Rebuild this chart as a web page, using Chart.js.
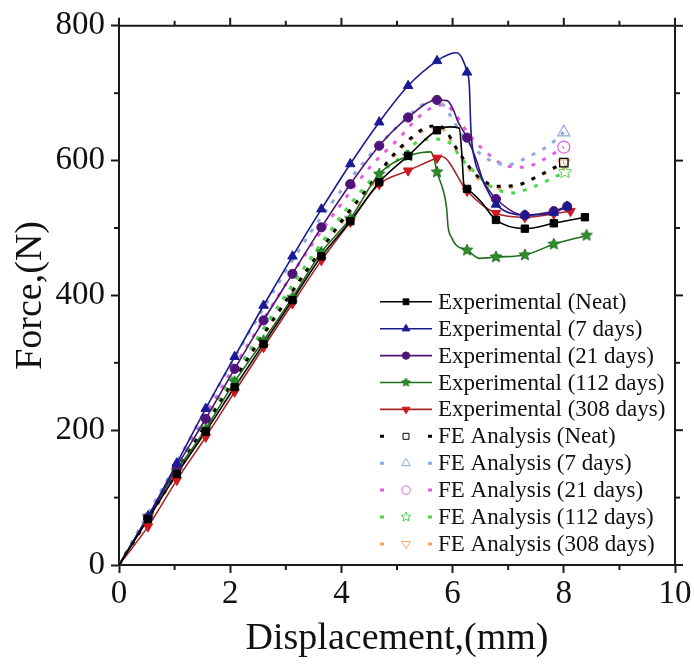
<!DOCTYPE html>
<html>
<head>
<meta charset="utf-8">
<script src="https://cdn.jsdelivr.net/npm/chart.js@4.4.1/dist/chart.umd.min.js"></script>
<style>
  html, body { margin: 0; padding: 0; background: #fff; }
  #wrap { width: 694px; height: 666px; }
</style>
</head>
<body>
<div id="wrap"><canvas id="grafico-forca" width="694" height="666"></canvas></div>
<script>
// eixos
const xTicks = [0, 2, 4, 6, 8, 10];
const yTicks = [0, 200, 400, 600, 800];

// experimental: pontos medidos (com marcador) + vertices extras da curva
const expNeatMarks = [[0.52,68],[1.04,135],[1.56,198],[2.08,264],[2.6,328],[3.12,393],[3.64,458],[4.16,510],[4.68,568],[5.2,607],[5.72,645],[6.26,558],[6.78,512],[7.3,499],[7.82,507],[8.38,516]];
const expNeatPath = [[0,0],[5.95,650],[6.12,648],[6.17,605],[6.2,566],[6.5,540]];

const exp7Marks = [[0.52,72],[1.04,151],[1.56,232],[2.08,309],[2.6,385],[3.12,458],[3.64,528],[4.16,595],[4.68,657],[5.2,711],[5.72,748],[6.26,731],[6.78,535],[7.3,519],[7.82,523],[8.06,532]];
const exp7Path = [[0,0],[5.95,758],[6.07,760],[6.17,752],[6.3,712],[6.33,645],[6.4,600],[6.5,578],[6.65,552]];

const exp21Marks = [[0.52,70],[1.04,146],[1.56,217],[2.08,291],[2.6,363],[3.12,432],[3.64,501],[4.16,565],[4.68,622],[5.2,664],[5.72,690],[6.26,634],[6.78,543],[7.3,519],[7.82,525],[8.06,532]];
const exp21Path = [[0,0],[5.9,689],[6.0,678],[6.1,657],[6.43,600],[6.55,570],[6.7,551]];

const exp112Marks = [[0.52,72],[1.04,140],[1.56,202],[2.08,272],[2.6,333],[3.12,397],[3.64,464],[4.16,514],[4.68,580],[5.2,607],[5.72,583],[6.26,467],[6.78,457],[7.3,460],[7.82,476],[8.41,489]];
const exp112Path = [[0,0],[5.45,612],[5.6,613],[5.66,605],[5.83,556],[5.89,531],[5.92,501],[5.98,486],[6.07,474],[6.49,455]];

const exp308Marks = [[0.52,57],[1.04,126],[1.56,190],[2.08,257],[2.6,323],[3.12,388],[3.64,452],[4.16,509],[4.68,565],[5.2,585],[5.72,604],[6.26,555],[6.78,522],[7.3,516],[7.82,521],[8.12,525]];
const exp308Path = [[0,0],[5.8,606]];

// FE analysis
const feNeat = [[0,0],[0.5,66],[1,133],[1.5,200],[2,265],[2.5,330],[3,392],[3.5,452],[4,510],[4.5,562],[4.93,608],[5.2,630],[5.5,648],[5.75,652],[5.9,642],[6.04,622],[6.24,597],[6.43,578],[6.82,562],[7.18,564],[7.51,576],[7.84,590],[8.0,597]];
const fe7 = [[0,0],[0.5,73],[1,146],[1.5,222],[2,296],[2.5,367],[3,436],[3.5,500],[4,556],[4.5,607],[5,650],[5.44,682],[5.65,690],[5.8,686],[5.98,664],[6.16,640],[6.4,617],[6.73,598],[7.0,594],[7.39,607],[7.72,622],[8.0,642]];
const fe21 = [[0,0],[0.5,71],[1,143],[1.5,214],[2,284],[2.5,351],[3,417],[3.5,479],[4,536],[4.5,589],[5.08,637],[5.32,659],[5.59,677],[5.85,683],[6.0,674],[6.16,655],[6.31,637],[6.61,612],[6.91,594],[7.27,590],[7.6,600],[8.0,620]];
const fe112 = [[0,0],[0.5,69],[1,138],[1.5,206],[2,273],[2.5,338],[3,401],[3.5,461],[4,518],[4.5,568],[5.08,606],[5.35,627],[5.65,632],[5.95,626],[6.16,603],[6.43,580],[6.7,561],[7.06,552],[7.42,560],[7.72,571],[8.02,583]];
const fe308 = [[0,0],[0.5,64],[1,131],[1.5,197],[2,262],[2.5,327],[3,390],[3.5,450],[4,507],[4.5,558],[4.93,605],[5.2,628],[5.53,647],[5.75,650],[5.9,640],[6.04,619],[6.24,594],[6.43,575],[6.82,559],[7.18,563],[7.51,575],[7.84,589],[8.0,596]];

const rotulosExp = ["Experimental (Neat)", "Experimental (7 days)", "Experimental (21 days)", "Experimental (112 days)", "Experimental (308 days)"];
const rotulosFE = ["FE Analysis (Neat)", "FE Analysis (7 days)", "FE Analysis (21 days)", "FE Analysis (112 days)", "FE Analysis (308 days)"];

const SERIF = '"Liberation Serif", "Times New Roman", serif';

function estrela(r, fill, stroke, vazada) {
  const c = document.createElement("canvas");
  const s = Math.ceil(r * 2 + 4);
  c.width = s; c.height = s;
  const g = c.getContext("2d");
  g.beginPath();
  for (let i = 0; i < 10; i++) {
    const rr = i % 2 === 0 ? r : r * 0.45;
    const ang = -Math.PI / 2 + i * Math.PI / 5;
    const px = s / 2 + Math.cos(ang) * rr, py = s / 2 + Math.sin(ang) * rr;
    i === 0 ? g.moveTo(px, py) : g.lineTo(px, py);
  }
  g.closePath();
  if (!vazada) { g.fillStyle = fill; g.fill(); }
  g.strokeStyle = stroke; g.lineWidth = 1; g.stroke();
  return c;
}

const pts = arr => arr.map(([x, y]) => ({ x, y }));
const curva = (marks, path) => pts([...marks, ...path].sort((a, b) => a[0] - b[0]));

const exp = [
  { marks: expNeatMarks, path: expNeatPath, linha: "#000000", cor: "#000000", estilo: "rect", raio: 5.2, rot: 0 },
  { marks: exp7Marks, path: exp7Path, linha: "#1b1b8c", cor: "#1a1a96", estilo: "triangle", raio: 5.5, rot: 0 },
  { marks: exp21Marks, path: exp21Path, linha: "#4b1571", cor: "#4e1478", estilo: "circle", raio: 4.6, rot: 0 },
  { marks: exp112Marks, path: exp112Path, linha: "#1e6e1e", cor: "#2b8f2b", estilo: estrela(6, "#2b8f2b", "#1e6e1e", false), estiloLeg: estrela(4.5, "#2b8f2b", "#1e6e1e", false), raio: 6, rot: 0 },
  { marks: exp308Marks, path: exp308Path, linha: "#a8262a", cor: "#d0181e", estilo: "triangle", raio: 5.5, rot: 180 }
];

const fe = [
  { data: feNeat, cor: "#000000", estilo: "rect", raio: 6, rot: 0 },
  { data: fe7, cor: "#8fa8dc", estilo: "triangle", raio: 7, rot: 0 },
  { data: fe21, cor: "#e060e0", estilo: "circle", raio: 6, rot: 0 },
  { data: fe112, cor: "#4cd44c", estilo: estrela(7, "#fff", "#4cd44c", true), estiloLeg: estrela(5, "#fff", "#4cd44c", true), raio: 7, rot: 0 },
  { data: fe308, cor: "#f0a868", estilo: "triangle", raio: 7, rot: 180 }
];

const datasets = [];
exp.forEach((s, i) => {
  datasets.push({
    label: rotulosExp[i] + " marcadores",
    data: pts(s.marks),
    showLine: false,
    pointStyle: s.estilo,
    pointRotation: s.rot,
    pointRadius: s.raio,
    pointBackgroundColor: s.cor,
    pointBorderColor: s.cor,
    pointBorderWidth: 1,
    order: 0
  });
});
exp.forEach((s, i) => {
  datasets.push({
    label: rotulosExp[i],
    data: curva(s.marks, s.path),
    showLine: true,
    borderColor: s.linha,
    borderWidth: 1.6,
    pointRadius: 0,
    cubicInterpolationMode: "monotone",
    order: 1
  });
});
fe.forEach((s, i) => {
  datasets.push({
    label: rotulosFE[i],
    data: pts(s.data),
    showLine: true,
    borderColor: s.cor,
    borderWidth: 3,
    borderDash: [4, 8],
    cubicInterpolationMode: "monotone",
    pointStyle: s.estilo,
    pointRotation: s.rot,
    pointRadius: ctx => ctx.dataIndex === ctx.dataset.data.length - 1 ? s.raio : 0,
    pointBackgroundColor: "rgba(255,255,255,0)",
    pointBorderColor: s.cor,
    pointBorderWidth: 1.2,
    order: 2
  });
});

const molduraPlugin = {
  id: "moldura",
  afterDraw(chart) {
    const { ctx, chartArea: a, scales: { x, y } } = chart;
    ctx.save();
    ctx.strokeStyle = "#1a1a1a";
    ctx.lineWidth = 2;
    const seg = (x1, y1, x2, y2) => { ctx.beginPath(); ctx.moveTo(x1, y1); ctx.lineTo(x2, y2); ctx.stroke(); };
    seg(a.left, a.top, a.right, a.top);
    seg(a.right, a.top, a.right, a.bottom);
    for (let v = x.min; v <= x.max; v += 1) {
      const px = x.getPixelForValue(v);
      const maior = xTicks.includes(v);
      const len = maior ? 8 : 5;
      if (!maior) seg(px, a.bottom, px, a.bottom + len);
      seg(px, a.top, px, a.top - len);
    }
    for (let v = y.min; v <= y.max; v += 100) {
      const py = y.getPixelForValue(v);
      const maior = yTicks.includes(v);
      const len = maior ? 8 : 5;
      if (!maior) seg(a.left, py, a.left - len, py);
      seg(a.right, py, a.right + len, py);
    }
    ctx.restore();
  }
};

const legendaPlugin = {
  id: "legenda",
  afterDraw(chart) {
    const { ctx, chartArea: a } = chart;
    const x0 = a.left + 261, x1 = x0 + 52, xm = (x0 + x1) / 2, xt = x1 + 6;
    let yy = a.top + 276;
    const passo = 26.9;
    const H = Chart.helpers;
    ctx.save();
    ctx.font = "23px " + SERIF;
    ctx.textBaseline = "middle";
    exp.forEach((s, i) => {
      ctx.strokeStyle = s.linha; ctx.lineWidth = 1.6; ctx.setLineDash([]);
      ctx.beginPath(); ctx.moveTo(x0, yy); ctx.lineTo(x1, yy); ctx.stroke();
      ctx.fillStyle = s.cor; ctx.strokeStyle = s.cor; ctx.lineWidth = 1;
      H.drawPoint(ctx, { pointStyle: s.estiloLeg || s.estilo, rotation: s.rot, radius: s.raio * 0.8, borderWidth: 1 }, xm, yy);
      ctx.fillStyle = "#111";
      ctx.fillText(rotulosExp[i], xt, yy + 1);
      yy += passo;
    });
    fe.forEach((s, i) => {
      ctx.strokeStyle = s.cor; ctx.lineWidth = 3;
      ctx.beginPath(); ctx.moveTo(x0, yy); ctx.lineTo(x0 + 4, yy); ctx.moveTo(x1 - 4, yy); ctx.lineTo(x1, yy); ctx.stroke();
      ctx.fillStyle = "rgba(255,255,255,0)"; ctx.lineWidth = 1;
      H.drawPoint(ctx, { pointStyle: s.estiloLeg || s.estilo, rotation: s.rot, radius: s.raio * 0.7, borderWidth: 1 }, xm, yy);
      ctx.fillStyle = "#111";
      ctx.fillText(rotulosFE[i], xt, yy + 1);
      yy += passo;
    });
    ctx.restore();
  }
};

new Chart(document.getElementById("grafico-forca").getContext("2d"), {
  type: "scatter",
  data: { datasets },
  options: {
    responsive: false,
    animation: false,
    layout: { padding: { top: 25, right: 19, left: 0, bottom: 0 } },
    plugins: { legend: { display: false }, tooltip: { enabled: false } },
    scales: {
      x: {
        type: "linear", min: 0, max: 10,
        afterFit: s => { s.height = 101; },
        ticks: { stepSize: 2, color: "#111", font: { family: SERIF, size: 33 }, padding: 2, maxRotation: 0 },
        grid: { drawOnChartArea: false, tickLength: 8, tickWidth: 2, tickColor: "#1a1a1a" },
        border: { color: "#1a1a1a", width: 2 },
        title: { display: true, text: "Displacement,(mm)", color: "#111", font: { family: SERIF, size: 38 }, padding: { top: 0, bottom: 4 } }
      },
      y: {
        type: "linear", min: 0, max: 800,
        afterFit: s => { s.width = 119; },
        ticks: { stepSize: 200, color: "#111", font: { family: SERIF, size: 33 }, padding: 6 },
        grid: { drawOnChartArea: false, tickLength: 8, tickWidth: 2, tickColor: "#1a1a1a" },
        border: { color: "#1a1a1a", width: 2 },
        title: { display: true, text: "Force,(N)", color: "#111", font: { family: SERIF, size: 38 }, padding: { top: 8, bottom: 0 } }
      }
    }
  },
  plugins: [molduraPlugin, legendaPlugin]
});
</script>
</body>
</html>
